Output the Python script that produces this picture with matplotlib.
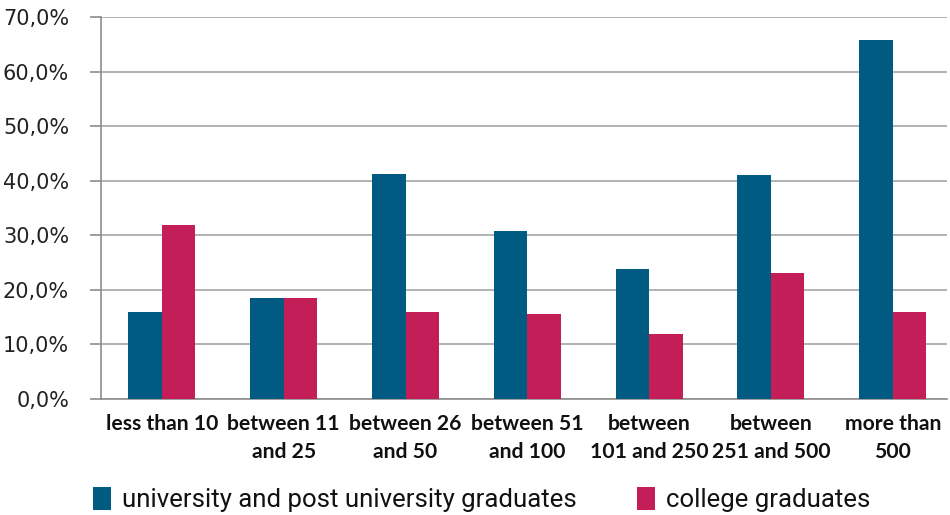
import matplotlib
matplotlib.use("Agg")
import matplotlib.pyplot as plt
from matplotlib.patches import Patch
from matplotlib.ticker import FuncFormatter
import numpy as np

# Share of graduates by company size
categories = ["less than 10", "between 11\nand 25", "between 26\nand 50", "between 51\nand 100",
              "between\n101 and 250", "between\n251 and 500", "more than\n500"]
university = [15.9, 18.5, 41.2, 30.8, 23.8, 41.0, 65.7]
college = [31.9, 18.5, 16.0, 15.6, 12.0, 23.0, 15.9]
series_names = ["university and post university graduates", "college graduates"]

BLUE = "#005a82"
RED = "#c41e58"
GRID = "#a6a6a6"
AXIS = "#8c8c8c"

fig = plt.figure(figsize=(9.5, 5.15), dpi=100)
ax = fig.add_axes([101 / 950, 1 - 399 / 515, 846 / 950, 382 / 515])

x = np.arange(len(categories))
w = 0.275
ax.bar(x - w / 2, university, w, color=BLUE, zorder=3)
ax.bar(x + w / 2, college, w, color=RED, zorder=3)

ax.set_ylim(0, 70)
ax.set_xlim(-0.5, -0.5 + 846 / 121.8)
ax.set_yticks(np.arange(0, 71, 10))
ax.yaxis.set_major_formatter(FuncFormatter(lambda v, p: f"{v:.1f}%".replace(".", ",")))
ax.grid(axis="y", color=GRID, linewidth=1.2, zorder=0)

for side in ["top", "right"]:
    ax.spines[side].set_visible(False)
for side in ["left", "bottom"]:
    ax.spines[side].set_color(AXIS)
    ax.spines[side].set_linewidth(1.2)

ax.tick_params(axis="y", length=8, color=AXIS, width=1.2, pad=15,
               labelsize=15, labelcolor="#222222")
for lbl in ax.get_yticklabels():
    lbl.set_fontfamily("DejaVu Sans")

ax.set_xticks(x)
ax.set_xticklabels(categories, fontfamily=["Lato", "DejaVu Sans"], fontweight="bold",
                   fontsize=15.2, linespacing=1.47, va="top", color="#111111")
ax.tick_params(axis="x", length=0, pad=11)

# two legend entries placed separately below the axis labels
legend_y = 1 - 499.5 / 515
for color, name, left in zip([BLUE, RED], series_names, [93, 637]):
    fig.legend([Patch(facecolor=color)], [name], loc="center left",
               bbox_to_anchor=(left / 950, legend_y), frameon=False,
               prop={"family": ["Roboto", "DejaVu Sans"], "size": 18.5},
               handlelength=0.71, handleheight=0.99, handletextpad=0.43,
               borderpad=0, borderaxespad=0, labelcolor="#111111")

fig.savefig("out.png", dpi=100)
